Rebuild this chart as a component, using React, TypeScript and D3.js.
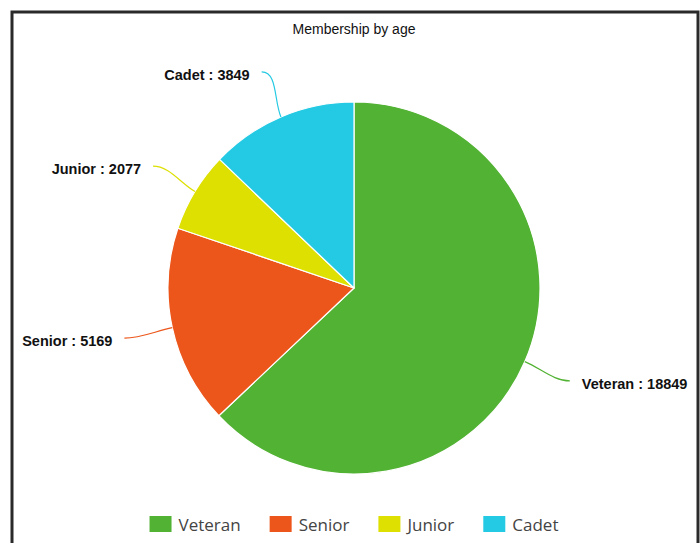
import React, { useEffect, useRef } from "react";
import * as d3 from "d3";

const categories = ["Veteran", "Senior", "Junior", "Cadet"];
const values = [18849, 5169, 2077, 3849];
const colors = ["#52b233", "#ec561b", "#dde000", "#24c9e3"];
const title = "Membership by age";

const W = 700;
const H = 543;
const cx = 354;
const cy = 288;
const R = 186;
const labelR = 235;

export default function App() {
  const ref = useRef<SVGSVGElement | null>(null);

  useEffect(() => {
    const svg = d3.select(ref.current);
    svg.selectAll("*").remove();

    svg
      .append("rect")
      .attr("x", 12)
      .attr("y", 12)
      .attr("width", 686)
      .attr("height", 600)
      .attr("fill", "#fff")
      .attr("stroke", "#2a2a2a")
      .attr("stroke-width", 3);

    svg
      .append("text")
      .attr("x", cx)
      .attr("y", 34)
      .attr("text-anchor", "middle")
      .attr("font-family", "'Liberation Sans', Arial, sans-serif")
      .attr("font-size", 14)
      .attr("fill", "#111")
      .text(title);

    const data = categories.map((c, i) => ({ name: c, value: values[i], color: colors[i] }));
    const pie = d3
      .pie<any>()
      .sort(null)
      .value((d: any) => d.value)
      .startAngle(0)
      .endAngle(2 * Math.PI);
    const arcs = pie(data);
    const arc = d3.arc<any>().innerRadius(0).outerRadius(R);

    const g = svg.append("g").attr("transform", `translate(${cx},${cy})`);
    g.selectAll("path.slice")
      .data(arcs)
      .enter()
      .append("path")
      .attr("class", "slice")
      .attr("d", arc as any)
      .attr("fill", (d: any) => d.data.color)
      .attr("stroke", "#fff")
      .attr("stroke-width", 1.2)
      .attr("stroke-linejoin", "round");

    arcs.forEach((a: any) => {
      const mid = (a.startAngle + a.endAngle) / 2;
      const sx = Math.sin(mid);
      const sy = -Math.cos(mid);
      const ex = R * sx;
      const ey = R * sy;
      const lx = labelR * sx;
      const ly = labelR * sy;
      const sign = lx >= 0 ? 1 : -1;
      const c1x = (R + 18) * sx;
      const c1y = (R + 18) * sy;
      const c2x = lx - sign * 16;
      const c2y = ly;
      g.append("path")
        .attr("d", `M${ex},${ey}C${c1x},${c1y} ${c2x},${c2y} ${lx},${ly}`)
        .attr("fill", "none")
        .attr("stroke", a.data.color)
        .attr("stroke-width", 1.2);
      g.append("text")
        .attr("x", lx + sign * 12)
        .attr("y", ly + 8)
        .attr("text-anchor", sign > 0 ? "start" : "end")
        .attr("font-family", "'Liberation Sans', Arial, sans-serif")
        .attr("font-weight", "bold")
        .attr("font-size", 14.5)
        .attr("fill", "#111")
        .text(`${a.data.name} : ${a.data.value}`);
    });

    // legend
    const lg = svg.append("g");
    const sqW = 22;
    const sqH = 16;
    const gapText = 7;
    const gapItem = 29;
    const items: any[] = [];
    let x = 0;
    data.forEach((d) => {
      const it = lg.append("g");
      it.append("rect")
        .attr("x", 0)
        .attr("y", 516)
        .attr("width", sqW)
        .attr("height", sqH)
        .attr("fill", d.color);
      const t = it
        .append("text")
        .attr("x", sqW + gapText)
        .attr("y", 531)
        .attr("font-family", "'Open Sans', sans-serif")
        .attr("font-size", 17)
        .attr("fill", "#444")
        .text(d.name);
      const tw = (t.node() as SVGTextElement).getComputedTextLength();
      items.push({ it, x, w: sqW + gapText + tw });
      x += sqW + gapText + tw + gapItem;
    });
    const total = x - gapItem;
    const start = cx - total / 2;
    items.forEach((o) => o.it.attr("transform", `translate(${start + o.x},0)`));
  }, []);

  return (
    <div style={{ position: "absolute", left: 0, top: 0, width: W, height: H, overflow: "hidden" }}>
      <svg ref={ref} width={W} height={H} style={{ display: "block" }} />
    </div>
  );
}
